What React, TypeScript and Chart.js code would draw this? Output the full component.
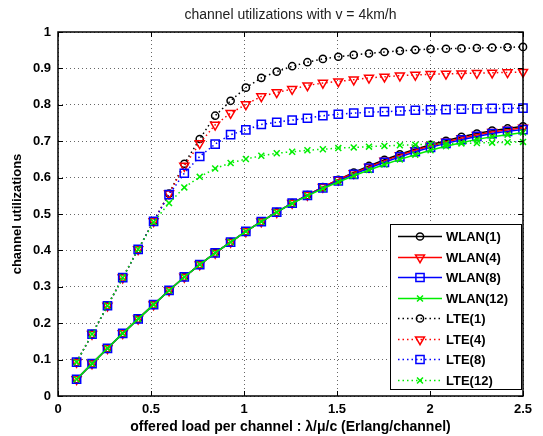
import React, { useEffect, useRef } from 'react';
import { Chart, registerables } from 'chart.js';

Chart.register(...registerables);

const TITLE = 'channel utilizations with v = 4km/h';
const X_LABEL = 'offered load per channel : λ/μ/c (Erlang/channel)';
const Y_LABEL = 'channel utilizations';

const xs = [0.1, 0.183, 0.266, 0.348, 0.431, 0.514, 0.597, 0.679, 0.762, 0.845, 0.928, 1.01, 1.093, 1.176, 1.259, 1.341, 1.424, 1.507, 1.59, 1.672, 1.755, 1.838, 1.921, 2.003, 2.086, 2.169, 2.252, 2.334, 2.417, 2.5];

const wlan1 = [0.046, 0.089, 0.131, 0.172, 0.212, 0.251, 0.29, 0.327, 0.361, 0.393, 0.423, 0.452, 0.479, 0.505, 0.53, 0.552, 0.574, 0.594, 0.614, 0.632, 0.649, 0.664, 0.678, 0.69, 0.701, 0.712, 0.721, 0.729, 0.735, 0.741];
const wlan4 = [0.046, 0.089, 0.131, 0.172, 0.212, 0.251, 0.29, 0.327, 0.361, 0.393, 0.423, 0.452, 0.479, 0.505, 0.53, 0.552, 0.574, 0.594, 0.612, 0.629, 0.646, 0.661, 0.675, 0.687, 0.698, 0.708, 0.717, 0.725, 0.731, 0.737];
const wlan8 = [0.046, 0.089, 0.131, 0.172, 0.212, 0.251, 0.29, 0.327, 0.361, 0.393, 0.423, 0.452, 0.479, 0.505, 0.53, 0.551, 0.572, 0.591, 0.609, 0.626, 0.642, 0.657, 0.671, 0.683, 0.694, 0.704, 0.713, 0.721, 0.727, 0.732];
const wlan12 = [0.046, 0.089, 0.131, 0.172, 0.212, 0.251, 0.29, 0.327, 0.361, 0.393, 0.423, 0.452, 0.479, 0.505, 0.529, 0.55, 0.57, 0.588, 0.605, 0.621, 0.636, 0.65, 0.663, 0.675, 0.686, 0.696, 0.705, 0.712, 0.718, 0.724];
const lte1 = [0.093, 0.17, 0.248, 0.325, 0.403, 0.48, 0.556, 0.638, 0.706, 0.77, 0.811, 0.847, 0.874, 0.891, 0.906, 0.917, 0.926, 0.932, 0.937, 0.941, 0.945, 0.948, 0.951, 0.953, 0.954, 0.955, 0.956, 0.957, 0.958, 0.959];
const lte4 = [0.093, 0.17, 0.248, 0.325, 0.403, 0.48, 0.556, 0.632, 0.694, 0.745, 0.777, 0.801, 0.823, 0.834, 0.843, 0.853, 0.86, 0.864, 0.869, 0.874, 0.877, 0.88, 0.882, 0.884, 0.885, 0.886, 0.887, 0.888, 0.889, 0.89];
const lte8 = [0.093, 0.17, 0.248, 0.325, 0.403, 0.48, 0.553, 0.612, 0.658, 0.692, 0.718, 0.731, 0.746, 0.752, 0.758, 0.763, 0.77, 0.774, 0.777, 0.78, 0.781, 0.783, 0.785, 0.786, 0.787, 0.788, 0.789, 0.79, 0.79, 0.791];
const lte12 = [0.093, 0.17, 0.248, 0.325, 0.403, 0.478, 0.53, 0.573, 0.602, 0.625, 0.64, 0.651, 0.66, 0.667, 0.671, 0.675, 0.678, 0.681, 0.683, 0.685, 0.687, 0.689, 0.69, 0.692, 0.693, 0.694, 0.695, 0.696, 0.697, 0.698];

const seriesNames = ['WLAN(1)', 'WLAN(4)', 'WLAN(8)', 'WLAN(12)', 'LTE(1)', 'LTE(4)', 'LTE(8)', 'LTE(12)'];
const seriesData = [wlan1, wlan4, wlan8, wlan12, lte1, lte4, lte8, lte12];
const seriesColors = ['#000000', '#ff0000', '#0000ff', '#00ee00', '#000000', '#ff0000', '#0000ff', '#00ee00'];
const seriesMarkers = ['circle', 'triangle', 'rect', 'crossRot', 'circle', 'triangle', 'rect', 'crossRot'];
const seriesDotted = [false, false, false, false, true, true, true, true];

const FONT = '"Liberation Sans", Arial, sans-serif';

const markerRadius: Record<string, number> = { circle: 3.6, triangle: 5.2, rect: 5.8, crossRot: 4.2 };

const fmtTick = (v: any) => String(Number(Number(v).toFixed(2)));

function drawMarker(ctx: CanvasRenderingContext2D, kind: string, x: number, y: number, color: string) {
  ctx.save();
  ctx.setLineDash([]);
  ctx.strokeStyle = color;
  ctx.lineWidth = 1.5;
  ctx.beginPath();
  const r = markerRadius[kind];
  if (kind === 'circle') {
    ctx.arc(x, y, r, 0, Math.PI * 2);
  } else if (kind === 'triangle') {
    const s = r * Math.sin(Math.PI / 3);
    ctx.moveTo(x, y + r);
    ctx.lineTo(x - s, y - r / 2);
    ctx.lineTo(x + s, y - r / 2);
    ctx.closePath();
  } else if (kind === 'rect') {
    const s = r * Math.SQRT1_2;
    ctx.rect(x - s, y - s, 2 * s, 2 * s);
  } else {
    const d = r * Math.SQRT1_2;
    ctx.moveTo(x - d, y - d);
    ctx.lineTo(x + d, y + d);
    ctx.moveTo(x + d, y - d);
    ctx.lineTo(x - d, y + d);
  }
  ctx.stroke();
  ctx.restore();
}

const decorPlugin = {
  id: 'decor',
  afterDraw(chart: any) {
    const { ctx, chartArea: a, scales } = chart;
    ctx.save();
    // title
    ctx.fillStyle = '#222';
    ctx.font = `14px ${FONT}`;
    ctx.textAlign = 'center';
    ctx.textBaseline = 'middle';
    ctx.fillText(TITLE, (a.left + a.right) / 2, 15);

    // axes box
    ctx.setLineDash([]);
    ctx.strokeStyle = '#000';
    ctx.lineWidth = 1.5;
    ctx.strokeRect(a.left, a.top, a.right - a.left, a.bottom - a.top);

    // inward ticks on all sides
    const tl = 5;
    ctx.lineWidth = 1;
    ctx.beginPath();
    scales.x.ticks.forEach((t: any) => {
      const px = Math.round(scales.x.getPixelForValue(t.value)) + 0.5;
      ctx.moveTo(px, a.bottom);
      ctx.lineTo(px, a.bottom - tl);
      ctx.moveTo(px, a.top);
      ctx.lineTo(px, a.top + tl);
    });
    scales.y.ticks.forEach((t: any) => {
      const py = Math.round(scales.y.getPixelForValue(t.value)) + 0.5;
      ctx.moveTo(a.left, py);
      ctx.lineTo(a.left + tl, py);
      ctx.moveTo(a.right, py);
      ctx.lineTo(a.right - tl, py);
    });
    ctx.stroke();

    // legend
    const lx = 390, ly = 224, lw = 131, lh = 165;
    ctx.fillStyle = '#fff';
    ctx.fillRect(lx, ly, lw, lh);
    ctx.strokeStyle = '#000';
    ctx.lineWidth = 1;
    ctx.strokeRect(lx + 0.5, ly + 0.5, lw, lh);
    ctx.font = `bold 13px ${FONT}`;
    ctx.textAlign = 'left';
    ctx.textBaseline = 'middle';
    seriesNames.forEach((name, i) => {
      const y = Math.round(236 + i * 20.57) + 0.5;
      ctx.save();
      ctx.strokeStyle = seriesColors[i];
      ctx.lineWidth = 1.5;
      ctx.setLineDash(seriesDotted[i] ? [1.5, 3] : []);
      ctx.beginPath();
      ctx.moveTo(398, y);
      ctx.lineTo(442, y);
      ctx.stroke();
      ctx.restore();
      drawMarker(ctx, seriesMarkers[i], 420, y, seriesColors[i]);
      ctx.fillStyle = '#000';
      ctx.fillText(name, 446, y + 1);
    });
    ctx.restore();
  },
};

export default function App() {
  const ref = useRef<HTMLCanvasElement>(null);

  useEffect(() => {
    if (!ref.current) return;
    const datasets = seriesNames.map((name, i) => ({
      label: name,
      data: xs.map((x, j) => ({ x, y: seriesData[i][j] })),
      borderColor: seriesColors[i],
      backgroundColor: seriesColors[i],
      borderWidth: 1.5,
      borderDash: seriesDotted[i] ? [1.5, 3] : [],
      pointStyle: seriesMarkers[i],
      pointRadius: markerRadius[seriesMarkers[i]],
      pointRotation: seriesMarkers[i] === 'triangle' ? 180 : 0,
      pointBorderColor: seriesColors[i],
      pointBackgroundColor: 'rgba(0,0,0,0)',
      pointBorderWidth: 1.5,
      fill: false,
      tension: 0,
      clip: false,
      order: 8 - i,
    }));

    const chart = new Chart(ref.current, {
      type: 'line',
      data: { datasets },
      options: {
        animation: false,
        responsive: false,
        devicePixelRatio: 1,
        layout: { padding: { top: 32, right: 20, left: 0, bottom: 0 } },
        plugins: {
          legend: { display: false },
          tooltip: { enabled: false },
          title: { display: false },
        },
        scales: {
          x: {
            type: 'linear',
            min: 0,
            max: 2.5,
            ticks: {
              stepSize: 0.5,
              padding: 6,
              color: '#000',
              font: { family: FONT, size: 13, weight: 'bold' },
              callback: fmtTick,
            },
            grid: { color: 'rgba(0,0,0,0.6)', lineWidth: 1, drawTicks: false },
            border: { display: false, dash: [1, 3] },
            title: {
              display: true,
              text: X_LABEL,
              color: '#000',
              font: { family: FONT, size: 14, weight: 'bold' },
              padding: { top: 0, bottom: 0 },
            },
            afterFit: (s: any) => {
              s.height = 40;
            },
          },
          y: {
            type: 'linear',
            min: 0,
            max: 1,
            ticks: {
              stepSize: 0.1,
              padding: 7,
              color: '#000',
              font: { family: FONT, size: 13, weight: 'bold' },
              callback: fmtTick,
            },
            grid: { color: 'rgba(0,0,0,0.6)', lineWidth: 1, drawTicks: false },
            border: { display: false, dash: [1, 3] },
            title: {
              display: true,
              text: Y_LABEL,
              color: '#000',
              font: { family: FONT, size: 13, weight: 'bold' },
              padding: { top: 10, bottom: 0 },
            },
            afterFit: (s: any) => {
              s.width = 58;
            },
          },
        },
      } as any,
      plugins: [decorPlugin],
    });
    return () => chart.destroy();
  }, []);

  return (
    <div style={{ position: 'absolute', left: 0, top: 0, width: 543, height: 436, background: '#fff' }}>
      <canvas ref={ref} width={543} height={436} style={{ display: 'block' }} />
    </div>
  );
}
